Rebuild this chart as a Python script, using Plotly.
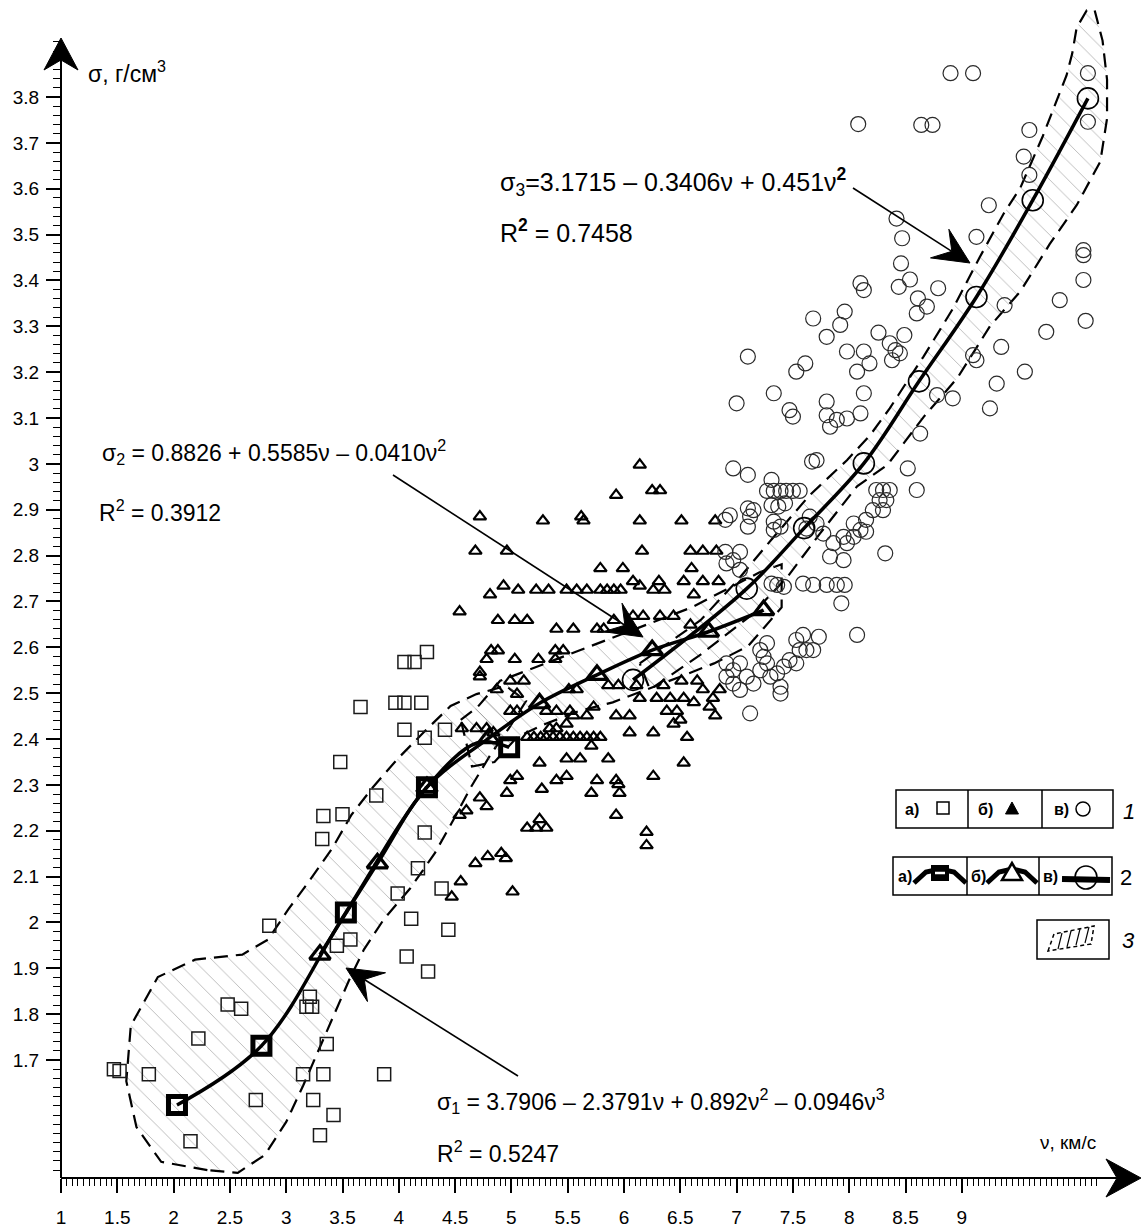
import plotly.graph_objects as go

# ---------------- data ----------------
# series "a" (squares)
sq_x = [4.05, 4.14, 4.25, 3.66, 3.97, 4.05, 4.20, 4.05, 4.41, 4.23,
        3.48, 3.80, 3.33, 3.50, 3.32, 4.23, 4.17, 4.38, 3.99, 2.85,
        4.11, 4.44, 3.57, 3.45, 4.07, 4.26, 2.48, 2.60, 3.21, 3.18,
        3.23, 2.22, 1.47, 1.52, 1.78, 3.33, 3.15, 3.87, 3.36, 2.73,
        3.24, 3.42, 3.30, 2.15]
sq_y = [2.568, 2.568, 2.590, 2.470, 2.479, 2.479, 2.479, 2.420, 2.420, 2.403,
        2.350, 2.277, 2.232, 2.236, 2.182, 2.196, 2.118, 2.074, 2.063, 1.993,
        2.008, 1.984, 1.963, 1.949, 1.926, 1.893, 1.821, 1.812, 1.838, 1.816,
        1.816, 1.747, 1.680, 1.676, 1.669, 1.669, 1.669, 1.669, 1.735, 1.613,
        1.613, 1.580, 1.536, 1.523]

# series "б" (triangles)
tri_x = [6.14, 5.93, 6.25, 6.32, 4.72, 5.28, 5.62, 5.64, 6.14, 6.51, 6.81,
         4.68, 4.96, 6.16, 6.59, 6.70, 6.82, 5.79, 5.99, 6.60,
         4.81, 4.93, 5.06, 5.22, 5.33, 5.49, 5.58, 5.67, 5.79, 5.85, 5.91, 5.97, 6.08, 6.14, 6.26, 6.31, 6.36, 6.53, 6.62, 6.70, 6.84,
         4.54, 4.88, 5.03, 5.14, 5.40, 5.55, 5.76, 5.82, 5.91, 6.08, 6.17, 6.32, 6.44, 6.59,
         4.82, 4.88, 4.78, 5.03, 5.24, 5.39, 5.46, 5.39,
         4.72, 4.72, 4.99, 5.11, 4.87, 5.05, 5.51, 5.58, 5.86, 5.95, 6.11, 6.35, 6.51, 6.65, 6.70, 6.79, 6.85, 6.14, 6.29, 6.41, 6.53, 6.62, 6.76,
         4.99, 5.05, 5.31, 5.40, 5.52, 5.73, 5.93, 6.05, 6.38, 6.47, 6.50, 6.81,
         4.56, 4.69, 4.78, 4.84,
         5.14, 5.20, 5.26, 5.31, 5.37, 5.43, 5.49, 5.55, 5.61, 5.67, 5.73, 5.79,
         5.34, 5.40, 5.49, 5.55, 5.67, 5.71, 5.86, 5.49, 5.61, 5.25, 6.05, 6.26, 6.44, 6.56, 6.53,
         5.05, 4.99, 5.40, 5.49, 5.76, 5.93, 5.95, 6.26, 5.27, 5.71, 5.96, 4.96, 4.72, 4.60, 4.54, 4.78, 5.25, 5.31, 5.14, 5.22, 5.93, 6.20, 6.20,
         4.68, 4.79, 4.91, 4.95, 4.55, 4.47, 5.01]
tri_y = [2.998, 2.932, 2.942, 2.942, 2.885, 2.876, 2.885, 2.876, 2.876, 2.876, 2.876,
         2.810, 2.810, 2.810, 2.810, 2.810, 2.810, 2.772, 2.772, 2.772,
         2.715, 2.734, 2.725, 2.725, 2.725, 2.725, 2.725, 2.725, 2.725, 2.725, 2.725, 2.725, 2.744, 2.734, 2.725, 2.744, 2.725, 2.744, 2.715, 2.744, 2.744,
         2.678, 2.659, 2.659, 2.659, 2.640, 2.640, 2.640, 2.640, 2.659, 2.668, 2.668, 2.668, 2.668, 2.649,
         2.593, 2.593, 2.574, 2.574, 2.574, 2.593, 2.593, 2.574,
         2.546, 2.536, 2.527, 2.527, 2.508, 2.498, 2.508, 2.508, 2.517, 2.517, 2.517, 2.517, 2.527, 2.527, 2.508, 2.489, 2.508, 2.489, 2.489, 2.489, 2.489, 2.480, 2.470,
         2.461, 2.461, 2.461, 2.461, 2.461, 2.470, 2.451, 2.451, 2.461, 2.461, 2.442, 2.451,
         2.423, 2.423, 2.423, 2.414,
         2.404, 2.404, 2.404, 2.404, 2.404, 2.404, 2.404, 2.404, 2.404, 2.404, 2.404, 2.404,
         2.423, 2.423, 2.433, 2.451, 2.451, 2.385, 2.357, 2.357, 2.357, 2.348, 2.414, 2.414, 2.433, 2.404, 2.348,
         2.319, 2.310, 2.310, 2.319, 2.310, 2.310, 2.301, 2.319, 2.291, 2.282, 2.282, 2.282, 2.272, 2.244, 2.234, 2.253, 2.225, 2.206, 2.206, 2.206, 2.234, 2.197, 2.168,
         2.129, 2.144, 2.151, 2.140, 2.089, 2.056, 2.067]

# series "в" (circles)
circ_x = [8.90, 9.10, 8.08, 8.64, 8.74, 10.12, 10.12, 9.60, 9.55, 9.60,
          8.42, 8.47, 9.13, 8.46, 10.08, 10.08, 8.54, 8.44, 8.10, 8.13,
          10.08, 8.79, 8.61, 8.69, 8.60, 9.87, 10.10, 7.68, 7.96, 7.92,
          7.80, 8.26, 8.49, 8.36, 8.41, 8.45, 8.38, 9.75, 9.35, 7.10,
          7.98, 8.13, 7.61, 7.53, 8.18, 8.07, 9.10, 9.13, 9.56, 7.33,
          7.00, 8.13, 7.80, 7.47, 7.50, 7.80, 7.83, 7.98, 7.89, 8.10,
          8.92, 9.31, 9.25, 8.63, 8.78, 6.97, 7.10, 7.31, 7.71, 7.67,
          8.52, 8.60, 7.27, 7.33, 7.39, 7.44, 7.50, 7.56, 8.24, 8.30,
          8.36, 9.24, 9.38,
          6.90, 6.94, 7.10, 7.12, 7.15, 7.10, 7.31, 7.37, 7.43, 7.33,
          7.39, 7.62, 7.33, 7.03, 6.90, 6.97, 7.03, 6.91, 7.36, 7.31,
          7.42, 7.59, 7.68, 7.80, 7.89, 7.96, 7.93, 7.53, 7.59, 7.73,
          7.56, 8.07, 8.32, 8.21, 8.30, 8.15, 8.10, 8.04, 8.15, 7.95,
          7.98, 7.95, 7.77, 7.86, 7.83, 7.71, 7.65, 8.04, 8.27, 8.33,
          6.91, 6.97, 7.03, 7.09, 7.15, 7.21, 7.27, 7.30, 7.36, 7.39,
          7.03, 6.97, 6.91, 7.12, 7.39, 7.27, 7.21, 7.24, 7.47, 7.53,
          7.42, 7.62, 7.68]
circ_y = [3.852, 3.852, 3.741, 3.739, 3.739, 3.852, 3.746, 3.728, 3.670, 3.630,
          3.535, 3.492, 3.495, 3.437, 3.466, 3.455, 3.402, 3.386, 3.394, 3.379,
          3.401, 3.383, 3.361, 3.343, 3.328, 3.357, 3.312, 3.317, 3.332, 3.303,
          3.277, 3.286, 3.281, 3.263, 3.248, 3.241, 3.226, 3.288, 3.255, 3.234,
          3.245, 3.245, 3.219, 3.201, 3.219, 3.201, 3.237, 3.226, 3.201, 3.154,
          3.132, 3.154, 3.136, 3.117, 3.103, 3.106, 3.081, 3.099, 3.096, 3.110,
          3.143, 3.175, 3.121, 3.066, 3.150, 2.990, 2.976, 2.965, 3.008, 3.005,
          2.990, 2.943, 2.941, 2.941, 2.941, 2.941, 2.941, 2.941, 2.943, 2.943,
          2.943, 3.564, 3.346,
          2.878, 2.888, 2.903, 2.885, 2.899, 2.863, 2.910, 2.907, 2.914, 2.874,
          2.863, 2.859, 2.856, 2.808, 2.808, 2.790, 2.769, 2.783, 2.736, 2.739,
          2.732, 2.739, 2.736, 2.736, 2.736, 2.736, 2.696, 2.616, 2.627, 2.623,
          2.594, 2.627, 2.805, 2.899, 2.899, 2.878, 2.856, 2.841, 2.852, 2.841,
          2.827, 2.790, 2.848, 2.827, 2.798, 2.870, 2.885, 2.870, 2.921, 2.921,
          2.565, 2.550, 2.565, 2.536, 2.521, 2.550, 2.565, 2.536, 2.543, 2.514,
          2.507, 2.521, 2.536, 2.456, 2.499, 2.609, 2.594, 2.579, 2.572, 2.565,
          2.558, 2.594, 2.594]

# regression curves (points on the drawn curves) and their big markers
fit_a_x = [2.03, 2.78, 3.53, 4.25, 4.70, 4.98]
fit_a_y = [1.602, 1.731, 2.022, 2.295, 2.392, 2.382]
mk_a_x = [2.03, 2.78, 3.53, 4.25, 4.98]
mk_a_y = [1.602, 1.731, 2.022, 2.295, 2.382]
fit_b_x = [3.30, 3.81, 4.25, 4.80, 5.25, 5.76, 6.25, 6.75, 7.24]
fit_b_y = [1.930, 2.129, 2.295, 2.402, 2.478, 2.540, 2.594, 2.634, 2.681]
fit_c_x = [6.08, 7.09, 7.60, 8.13, 8.62, 9.13, 9.63, 10.12]
fit_c_y = [2.529, 2.728, 2.860, 3.001, 3.180, 3.364, 3.575, 3.797]

# dashed hatched envelopes
env_a_x = [2.30, 1.89, 1.67, 1.58, 1.62, 1.86, 2.19, 2.61, 2.84, 3.02, 3.20, 3.41, 3.58, 3.77,
           3.99, 4.23, 4.46, 4.69, 4.95, 5.13, 4.99, 4.82, 4.64, 4.51, 4.32, 4.10, 3.87, 3.69,
           3.56, 3.42, 3.29, 3.15, 3.00, 2.81, 2.57, 2.30]
env_a_y = [1.460, 1.478, 1.554, 1.654, 1.775, 1.881, 1.919, 1.930, 1.963, 2.029, 2.089, 2.162,
           2.235, 2.295, 2.357, 2.417, 2.472, 2.498, 2.516, 2.483, 2.428, 2.368, 2.295, 2.235,
           2.151, 2.074, 2.008, 1.941, 1.875, 1.797, 1.721, 1.644, 1.565, 1.493, 1.454, 1.460]
env_b_x = [4.55, 4.70, 4.90, 5.10, 5.40, 5.70, 6.00, 6.30, 6.60, 6.90, 7.20, 7.40,
           7.40, 7.10, 6.80, 6.50, 6.20, 5.90, 5.60, 5.30, 5.05, 4.85, 4.65, 4.55]
env_b_y = [2.442, 2.470, 2.527, 2.546, 2.574, 2.602, 2.631, 2.659, 2.687, 2.725, 2.763, 2.781,
           2.687, 2.602, 2.565, 2.536, 2.508, 2.480, 2.461, 2.433, 2.404, 2.350, 2.340, 2.442]
env_c_x = [6.14, 6.68, 7.00, 7.32, 7.65, 7.98, 8.19, 8.36, 8.51, 8.66, 8.92, 9.16, 9.37,
           9.52, 9.72, 9.87, 9.93, 9.98, 10.02, 10.11, 10.18, 10.25, 10.29, 10.29, 10.23,
           10.02, 9.78, 9.52, 9.25, 8.96, 8.66, 8.34, 8.07, 7.74, 7.45, 7.12, 6.68, 6.23, 6.14]
env_c_y = [2.565, 2.659, 2.744, 2.838, 2.932, 3.008, 3.064, 3.121, 3.178, 3.234, 3.338, 3.451,
           3.545, 3.602, 3.715, 3.809, 3.847, 3.894, 3.951, 3.989, 3.989, 3.923, 3.838, 3.753,
           3.659, 3.564, 3.479, 3.376, 3.300, 3.187, 3.102, 2.998, 2.951, 2.848, 2.753, 2.668,
           2.584, 2.508, 2.565]

# axis ticks
x_tick_vals = [1, 1.5, 2, 2.5, 3, 3.5, 4, 4.5, 5, 5.5, 6, 6.5, 7, 7.5, 8, 8.5, 9]
x_tick_text = ["1", "1.5", "2", "2.5", "3", "3.5", "4", "4.5", "5", "5.5", "6", "6.5",
               "7", "7.5", "8", "8.5", "9"]
y_tick_vals = [1.7, 1.8, 1.9, 2.0, 2.1, 2.2, 2.3, 2.4, 2.5, 2.6, 2.7, 2.8, 2.9,
               3.0, 3.1, 3.2, 3.3, 3.4, 3.5, 3.6, 3.7, 3.8]
y_tick_text = ["1.7", "1.8", "1.9", "2", "2.1", "2.2", "2.3", "2.4", "2.5", "2.6",
               "2.7", "2.8", "2.9", "3", "3.1", "3.2", "3.3", "3.4", "3.5", "3.6", "3.7", "3.8"]

eq1 = "σ<sub>1</sub> = 3.7906 – 2.3791ν + 0.892ν<sup>2</sup> – 0.0946ν<sup>3</sup>"
r1 = "R<sup>2</sup> = 0.5247"
eq2 = "σ<sub>2</sub> = 0.8826 + 0.5585ν – 0.0410ν<sup>2</sup>"
r2 = "R<sup>2</sup> = 0.3912"
eq3 = "σ<sub>3</sub>=3.1715 – 0.3406ν + 0.451ν<sup><b>2</b></sup>"
r3 = "R<sup><b>2</b></sup> = 0.7458"

# ---------------- layout geometry ----------------
W, H = 1142, 1227
ML, MB = 61, 49
PW, PH = W - ML, H - MB          # plot area spans px 61..1142, 0..1178
XPU, YPU = 112.6, 458.6          # pixels per axis unit
x_range = [1.0, 1.0 + PW / XPU]
y_range = [3.8 - (PH - 97) / YPU, 3.8 + 97 / YPU]
FONT = "Liberation Sans, Arial, sans-serif"


def P(px, py):
    return (px - ML) / PW, (PH - py) / PH


def path(points, close=True):
    s = ""
    for i, (px, py) in enumerate(points):
        x, y = P(px, py)
        s += ("M" if i == 0 else "L") + f"{x:.5f},{y:.5f} "
    return s + ("Z" if close else "")


shapes = []
annotations = []


def line_px(x0, y0, x1, y1, width=1.5, dash=None, color="black"):
    a, b = P(x0, y0)
    c, d = P(x1, y1)
    ln = dict(color=color, width=width)
    if dash:
        ln["dash"] = dash
    shapes.append(dict(type="line", xref="paper", yref="paper", x0=a, y0=b, x1=c, y1=d, line=ln))


def rect_px(x0, y0, x1, y1, width=1.5, fill="rgba(0,0,0,0)"):
    a, b = P(x0, y0)
    c, d = P(x1, y1)
    shapes.append(dict(type="rect", xref="paper", yref="paper", x0=a, y0=d, x1=c, y1=b,
                       line=dict(color="black", width=width), fillcolor=fill))


def poly_px(points, fill="black", width=1, close=True, dash=None):
    ln = dict(color="black", width=width)
    if dash:
        ln["dash"] = dash
    shapes.append(dict(type="path", xref="paper", yref="paper", path=path(points, close),
                       fillcolor=fill, line=ln))


def text_px(px, py, txt, size=20, xanchor="left", bold=False, italic=False):
    x, y = P(px, py)
    if bold:
        txt = "<b>" + txt + "</b>"
    if italic:
        txt = "<i>" + txt + "</i>"
    annotations.append(dict(x=x, y=y, xref="paper", yref="paper", text=txt, showarrow=False,
                            xanchor=xanchor, yanchor="middle",
                            font=dict(size=size, family=FONT, color="black")))


def dart(start, tip, L=36, hw=17, notch=0.6):
    sx, sy = start
    tx, ty = tip
    d = ((tx - sx) ** 2 + (ty - sy) ** 2) ** 0.5
    ux, uy = (tx - sx) / d, (ty - sy) / d
    nx, ny = -uy, ux
    bx, by = tx - L * ux, ty - L * uy
    w1 = (bx + hw * nx, by + hw * ny)
    w2 = (bx - hw * nx, by - hw * ny)
    nt = (tx - notch * L * ux, ty - notch * L * uy)
    line_px(sx, sy, nt[0], nt[1], width=1.6)
    poly_px([(tx, ty), w1, nt, w2])


# axes with arrows
line_px(61, 1178, 61, 55, width=2)
line_px(61, 1178, 1120, 1178, width=2)
poly_px([(61, 38), (44, 70), (61, 60), (78, 70)])
poly_px([(1141, 1178), (1106, 1159), (1117, 1178), (1106, 1197)])

# equation arrows
dart((518, 1076), (346, 968))
dart((393, 475), (643, 637))
dart((853, 188), (970, 263))

# legend 1
rect_px(896, 790, 1113, 828)
line_px(968, 790, 968, 828)
line_px(1042, 790, 1042, 828)
text_px(903, 809, "а)", size=16, bold=True)
rect_px(937, 802, 949, 814, width=1.5)
text_px(976, 809, "б)", size=16, bold=True)
poly_px([(1012, 802), (1005.5, 814), (1018.5, 814)])
text_px(1052, 809, "в)", size=16, bold=True)
a, b = P(1076, 802)
c, d = P(1090, 816)
shapes.append(dict(type="circle", xref="paper", yref="paper", x0=a, y0=d, x1=c, y1=b,
                   line=dict(color="black", width=1.5)))
text_px(1121, 811, "1", size=22, italic=True)

# legend 2
rect_px(893, 857, 1112, 895)
line_px(967, 857, 967, 895)
line_px(1039, 857, 1039, 895)
text_px(896, 876, "а)", size=16, bold=True)
poly_px([(914, 883), (926, 872), (940, 869), (954, 872), (966, 883)], fill="rgba(0,0,0,0)", width=5, close=False)
rect_px(932, 866, 948, 880, width=2, fill="black")
line_px(935, 873, 945, 873, width=2.5, color="white")
text_px(969, 876, "б)", size=16, bold=True)
poly_px([(987, 883), (999, 872), (1012, 869), (1025, 872), (1037, 883)], fill="rgba(0,0,0,0)", width=5, close=False)
poly_px([(1012, 863), (1002, 880), (1022, 880)], fill="white", width=2.5)
text_px(1041, 876, "в)", size=16, bold=True)
line_px(1062, 879, 1110, 880, width=6)
a, b = P(1075, 866)
c, d = P(1097, 889)
shapes.append(dict(type="circle", xref="paper", yref="paper", x0=a, y0=d, x1=c, y1=b,
                   line=dict(color="black", width=1.5)))
text_px(1118, 877, "2", size=22)

# legend 3
rect_px(1037, 920, 1109, 959)
poly_px([(1048, 951), (1054, 934), (1094, 926), (1091, 944)], fill="rgba(0,0,0,0)", width=1.5, dash="4px,3px")
for k in range(4):
    line_px(1058 + 9 * k, 949 - 2 * k, 1062 + 9 * k, 933 - 2 * k, width=1.2)
text_px(1120, 941, "3", size=22, italic=True)

# texts
text_px(498, 182, eq3, size=25)
text_px(498, 231, r3, size=25)
text_px(100, 452, eq2, size=23)
text_px(97, 511, r2, size=23)
text_px(435, 1101, eq1, size=23)
text_px(435, 1152, r1, size=23)
text_px(86, 72, "σ, г/см<sup>3</sup>", size=23)
text_px(1038, 1142, "ν, км/с", size=19)

# ---------------- figure ----------------
fig = go.Figure()
hatch = dict(shape="\\", size=13, solidity=0.07, fgcolor="#707070", bgcolor="rgba(0,0,0,0)")
for ex, ey in [(env_a_x, env_a_y), (env_b_x, env_b_y), (env_c_x, env_c_y)]:
    fig.add_trace(go.Scatter(x=ex, y=ey, mode="lines", fill="toself", fillcolor="rgba(0,0,0,0)",
                             fillpattern=hatch, line=dict(color="black", width=2.2, dash="14px,8px"),
                             hoverinfo="skip", showlegend=False))

fig.add_trace(go.Scatter(x=sq_x, y=sq_y, mode="markers", showlegend=False,
                         marker=dict(symbol="square-open", size=13, color="#1a1a1a", line=dict(width=1.5))))
fig.add_trace(go.Scatter(x=tri_x, y=tri_y, mode="markers", showlegend=False,
                         marker=dict(symbol="triangle-up-open", size=11, color="black", line=dict(width=2.2))))
fig.add_trace(go.Scatter(x=circ_x, y=circ_y, mode="markers", showlegend=False,
                         marker=dict(symbol="circle-open", size=15, color="#2a2a2a", line=dict(width=1.2))))

for fx, fy in [(fit_a_x, fit_a_y), (fit_b_x, fit_b_y), (fit_c_x, fit_c_y)]:
    fig.add_trace(go.Scatter(x=fx, y=fy, mode="lines", line=dict(color="black", width=3.5, shape="spline"),
                             showlegend=False, hoverinfo="skip"))

fig.add_trace(go.Scatter(x=mk_a_x, y=mk_a_y, mode="markers", showlegend=False,
                         marker=dict(symbol="square-open", size=17, color="black", line=dict(width=5))))
fig.add_trace(go.Scatter(x=fit_b_x, y=fit_b_y, mode="markers", showlegend=False,
                         marker=dict(symbol="triangle-up-open", size=18, color="black", line=dict(width=3.2))))
fig.add_trace(go.Scatter(x=fit_c_x, y=fit_c_y, mode="markers", showlegend=False,
                         marker=dict(symbol="circle-open", size=21, color="black", line=dict(width=1.6))))

x_minor = [round(1 + 0.05 * i, 2) for i in range(1, 185)]
y_minor = [round(1.46 + 0.02 * i, 2) for i in range(0, 124)]

fig.update_layout(
    width=W, height=H,
    margin=dict(l=ML, r=0, t=0, b=MB),
    paper_bgcolor="white", plot_bgcolor="white",
    shapes=shapes, annotations=annotations,
    xaxis=dict(range=x_range, showgrid=False, zeroline=False, showline=False,
               ticks="outside", ticklen=14, tickwidth=1.5, tickcolor="black",
               tickmode="array", tickvals=x_tick_vals, ticktext=x_tick_text,
               tickfont=dict(size=19, family=FONT, color="black"), ticklabelstandoff=8,
               minor=dict(tickmode="array", tickvals=x_minor, ticks="outside", ticklen=7,
                          tickwidth=1.2, tickcolor="black")),
    yaxis=dict(range=y_range, showgrid=False, zeroline=False, showline=False,
               ticks="outside", ticklen=14, tickwidth=1.5, tickcolor="black",
               tickmode="array", tickvals=y_tick_vals, ticktext=y_tick_text,
               tickfont=dict(size=19, family=FONT, color="black"), ticklabelstandoff=3,
               minor=dict(tickmode="array", tickvals=y_minor, ticks="outside", ticklen=7,
                          tickwidth=1.2, tickcolor="black")),
)

fig.write_html("out.html", config={"displayModeBar": False},
               post_script="document.body.style.margin='0';document.body.style.overflow='hidden';")
